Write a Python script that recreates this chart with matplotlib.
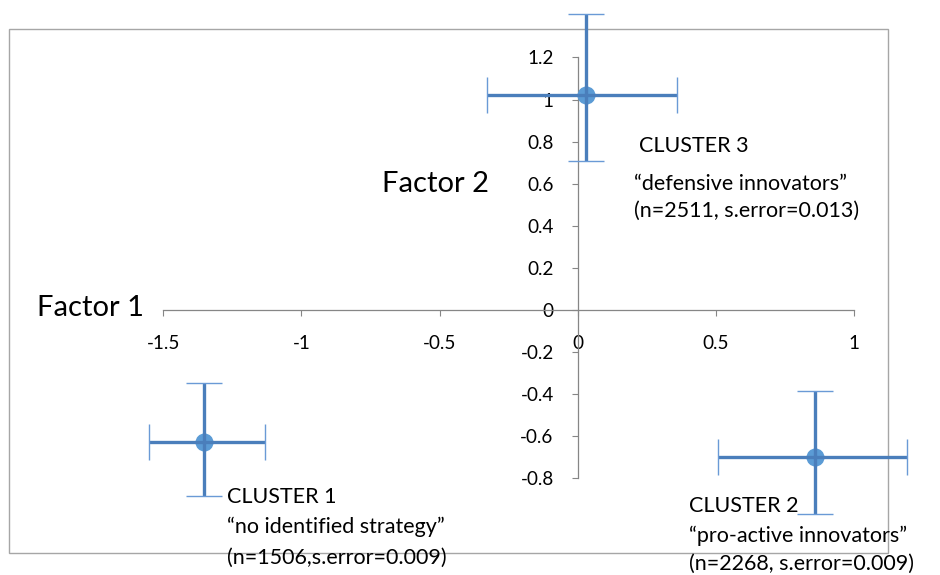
import matplotlib
matplotlib.use("Agg")
import matplotlib.pyplot as plt
from matplotlib.patches import Rectangle

plt.rcParams["font.family"] = ["Lato", "DejaVu Sans"]

# Cluster centroids on the two factors, with asymmetric error extents
clusters = ["CLUSTER 1", "CLUSTER 2", "CLUSTER 3"]
factor1 = [-1.352, 0.859, 0.030]
factor2 = [-0.627, -0.698, 1.021]
f1_err_low = [0.199, 0.351, 0.358]
f1_err_high = [0.221, 0.333, 0.330]
f2_err_low = [0.257, 0.271, 0.313]
f2_err_high = [0.280, 0.313, 0.385]

descriptions = ["\u201cno identified strategy\u201d",
                "\u201cpro-active innovators\u201d",
                "\u201cdefensive innovators\u201d"]
stats = ["(n=1506,s.error=0.009)",
         "(n=2268, s.error=0.009)",
         "(n=2511, s.error=0.013)"]

x_ticks = [-1.5, -1, -0.5, 0, 0.5, 1]
x_tick_labels = ["-1.5", "-1", "-0.5", "0", "0.5", "1"]
y_ticks = [-0.8, -0.6, -0.4, -0.2, 0, 0.2, 0.4, 0.6, 0.8, 1, 1.2]
y_tick_labels = ["-0.8", "-0.6", "-0.4", "-0.2", "0", "0.2", "0.4",
                 "0.6", "0.8", "1", "1.2"]

BAR_BLUE = "#4A7EBB"
CAP_BLUE = "#6A9AD6"
DOT_BLUE = "#5B9BD5"
AXIS_GREY = "#868686"
FRAME_GREY = "#A6A6A6"

W, H = 940, 575
fig = plt.figure(figsize=(W / 100, H / 100), dpi=100)
left, right, top, bottom = 9, 888, 29, 553
ax = fig.add_axes([left / W, 1 - bottom / H, (right - left) / W, (bottom - top) / H])
ax.set_xlim(-2.058, 1.123)
ax.set_ylim(-1.154, 1.335)
ax.patch.set_alpha(0)

# Axes crossing at the origin
for side in ("top", "right"):
    ax.spines[side].set_visible(False)
ax.spines["left"].set_position(("data", 0))
ax.spines["bottom"].set_position(("data", 0))
ax.spines["left"].set_bounds(-0.8, 1.2)
ax.spines["bottom"].set_bounds(-1.5, 1)
for side in ("left", "bottom"):
    ax.spines[side].set_color(AXIS_GREY)
    ax.spines[side].set_linewidth(0.9)

ax.set_xticks(x_ticks)
ax.set_xticklabels(x_tick_labels)
ax.set_yticks(y_ticks)
ax.set_yticklabels(y_tick_labels)
ax.tick_params(axis="both", direction="out", length=4.3, width=0.8,
               color=AXIS_GREY, labelsize=13.6, labelcolor="black")
ax.tick_params(axis="x", pad=13.5)
ax.tick_params(axis="y", pad=13.0)

# Chart frame
ax.add_patch(Rectangle((0, 0), 1, 1, transform=ax.transAxes, fill=False,
                       edgecolor=FRAME_GREY, linewidth=1.0, clip_on=False,
                       zorder=1))

# Centroid markers, then error bars drawn over them
ax.plot(factor1, factor2, linestyle="none", marker="o", markersize=13,
        color=DOT_BLUE, markeredgewidth=0, zorder=3, clip_on=False)
eb = ax.errorbar(factor1, factor2,
                 xerr=[f1_err_low, f1_err_high],
                 yerr=[f2_err_low, f2_err_high],
                 fmt="none", ecolor=BAR_BLUE, elinewidth=2.4,
                 capsize=13, capthick=1.0, zorder=4)
for cap in eb[1]:
    cap.set_color(CAP_BLUE)
    cap.set_markeredgecolor(CAP_BLUE)
    cap.set_clip_on(False)
for col in eb[2]:
    col.set_clip_on(False)

# Cluster captions (left edge, baselines of the three lines)
caption_x = [(-1.269, -1.269), (0.403, 0.403), (0.222, 0.204)]
caption_y = [(-0.917, -1.059, -1.207), (-0.960, -1.102, -1.235),
             (0.751, 0.570, 0.442)]
for name, desc, st, cx, cy in zip(clusters, descriptions, stats,
                                  caption_x, caption_y):
    ax.text(cx[0], cy[0], name, fontsize=15.5, ha="left", va="baseline")
    ax.text(cx[1], cy[1], desc, fontsize=15.5, ha="left", va="baseline")
    ax.text(cx[1], cy[2], st, fontsize=15.5, ha="left", va="baseline")

ax.text(-0.708, 0.561, "Factor 2", fontsize=21, ha="left", va="baseline")
ax.text(-1.956, -0.029, "Factor 1", fontsize=21, ha="left", va="baseline")

fig.savefig("out.png", dpi=100)
